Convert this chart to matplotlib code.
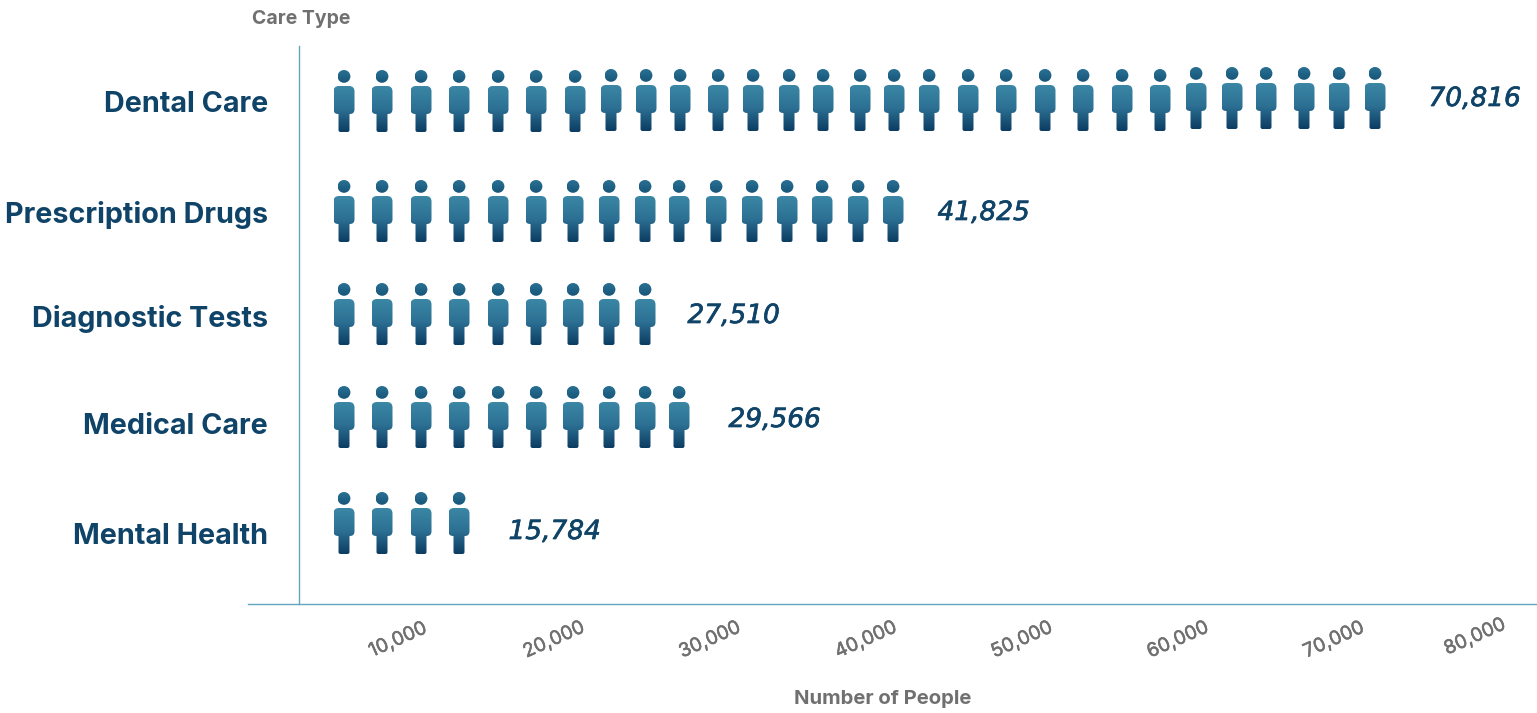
import numpy as np
import matplotlib
matplotlib.use("Agg")
import matplotlib.pyplot as plt
import matplotlib.patheffects as pe
from matplotlib.path import Path
from matplotlib.patches import PathPatch
from matplotlib.colors import LinearSegmentedColormap
from matplotlib.transforms import ScaledTranslation

# ---- data ----
categories = ["Dental Care", "Prescription Drugs", "Diagnostic Tests", "Medical Care", "Mental Health"]
values = [70816, 41825, 27510, 29566, 15784]
icon_counts = [29, 16, 9, 10, 4]
tick_values = [10000, 20000, 30000, 40000, 50000, 60000, 70000, 80000]
tick_labels = ["10,000", "20,000", "30,000", "40,000", "50,000", "60,000", "70,000", "80,000"]

# ---- layout (pixels of the 1537x713 canvas) ----
W, H, DPI = 1537, 713, 100
X_ZERO_PX = 242
row_top_px = [70, 180, 283, 386, 492]
row_label_px = [102, 212, 316, 423, 533]
value_label_px = [99, 213, 316, 420, 532]
value_gap_px = [43, 34, 32, 39, 39]
first_icon_px = 344
gaps_first_row = [38, 39, 38, 39, 38, 39, 36, 35, 34, 38, 35, 36, 34, 37, 34, 35, 39, 38, 39, 38, 39, 38, 36, 36, 34, 38, 35, 36]
gaps_other_rows = [38, 39, 38, 39, 38, 37, 36, 36, 34, 37, 36, 35, 35, 36, 35]
first_row_lift = [0] * 7 + [1] * 16 + [3] * 6

CAT_COLOR = "#0f4468"
AXIS_TEXT = "#707070"
LINE_COLOR = "#62a6bd"
LABEL_FONT = "Inter"

def px2x(px):
    return (px - X_ZERO_PX) / 156 * 10000

body_cmap = LinearSegmentedColormap.from_list("body", ["#3b87a5", "#2c7093", "#0c3d62"])
head_cmap = LinearSegmentedColormap.from_list("head", ["#2a7093", "#175679"])
grad = np.linspace(0, 1, 64).reshape(-1, 1)

def rounded_poly(pts, radii):
    n = len(pts)
    verts, codes = [], []
    for i in range(n):
        p = np.array(pts[i], float)
        a = np.array(pts[i - 1], float)
        b = np.array(pts[(i + 1) % n], float)
        r = radii[i]
        s = p + (a - p) / np.linalg.norm(a - p) * r
        e = p + (b - p) / np.linalg.norm(b - p) * r
        verts += [tuple(s), tuple(p), tuple(e)]
        codes += [Path.MOVETO if i == 0 else Path.LINETO, Path.CURVE3, Path.CURVE3]
    verts.append(verts[0])
    codes.append(Path.CLOSEPOLY)
    return np.array(verts), codes

BODY_PTS = [(-10.5, 16), (10.5, 16), (10.5, 44), (5.5, 44), (5.5, 62), (-5.5, 62), (-5.5, 44), (-10.5, 44)]
BODY_R = [5.5, 5.5, 4.7, 0.3, 2, 2, 0.3, 4.7]
body_v, body_c = rounded_poly(BODY_PTS, BODY_R)
circle = Path.circle((0, 6.4), 6.4)

fig = plt.figure(figsize=(W / DPI, H / DPI), dpi=DPI, facecolor="white")
ax = fig.add_axes([248 / W, 1 - 604 / H, (W - 248) / W, (604 - 46) / H])
ax.set_xlim(px2x(248), px2x(W))
ax.set_ylim(604, 46)

def draw_part(verts, codes, cx, top, cmap):
    xs = px2x(cx + verts[:, 0])
    ys = top + verts[:, 1]
    patch = PathPatch(Path(np.column_stack([xs, ys]), codes), transform=ax.transData,
                      facecolor="none", edgecolor="none")
    ax.add_patch(patch)
    im = ax.imshow(grad, extent=[xs.min(), xs.max(), ys.max(), ys.min()], cmap=cmap,
                   aspect="auto", origin="upper", zorder=2, interpolation="bilinear")
    im.set_clip_path(patch)

for r, cnt in enumerate(icon_counts):
    gaps = gaps_first_row if r == 0 else gaps_other_rows
    cx = first_icon_px
    for i in range(cnt):
        lift = first_row_lift[i] if r == 0 else 0
        top = row_top_px[r] - lift
        draw_part(circle.vertices, circle.codes, cx, top, head_cmap)
        draw_part(body_v, body_c, cx, top, body_cmap)
        if i < cnt - 1:
            cx += gaps[i]
    ax.annotate(f"{values[r]:,}", xy=(px2x(cx + 10.5 + value_gap_px[r]), value_label_px[r]),
                xycoords="data", ha="left", va="center", fontsize=19, style="italic",
                color=CAT_COLOR, family="DejaVu Sans",
                path_effects=[pe.withStroke(linewidth=0.5, foreground=CAT_COLOR)])

ax.set_xlim(px2x(248), px2x(W))
ax.set_ylim(604, 46)

for s in ("top", "right"):
    ax.spines[s].set_visible(False)
ax.spines["left"].set_position(("data", px2x(299)))
for s in ("left", "bottom"):
    ax.spines[s].set_color(LINE_COLOR)
    ax.spines[s].set_linewidth(1.0)

ax.set_yticks(row_label_px, categories)
ax.tick_params(axis="y", length=0, pad=31 * 72 / DPI, labelsize=20.7, labelcolor=CAT_COLOR)
for t in ax.get_yticklabels():
    t.set_family(LABEL_FONT)
    t.set_fontweight("bold")

ax.set_xticks(tick_values, tick_labels)
ax.tick_params(axis="x", length=0, pad=36 * 72 / DPI, labelsize=13.7, labelcolor=AXIS_TEXT)
for t in ax.get_xticklabels():
    t.set_family(LABEL_FONT)
    t.set_rotation(24)
    t.set_ha("center")
    t.set_va("center")
    t.set_rotation_mode("anchor")
    t.set_path_effects([pe.withStroke(linewidth=0.4, foreground=AXIS_TEXT)])
last = ax.get_xticklabels()[-1]
last.set_transform(last.get_transform() + ScaledTranslation(-15 / DPI, 3 / DPI, fig.dpi_scale_trans))

ax.set_xlabel("Number of People", family=LABEL_FONT, fontweight="bold", fontsize=14.6, color=AXIS_TEXT)
ax.xaxis.set_label_coords((883 - 248) / (W - 248), 1 - (699 - 46) / (604 - 46), transform=ax.transAxes)
ax.xaxis.label.set_va("center")
ax.set_ylabel("Care Type", family=LABEL_FONT, fontweight="bold", fontsize=14, color=AXIS_TEXT, rotation=0)
ax.yaxis.set_label_coords((301 - 248) / (W - 248), 1 + (46 - 19) / (604 - 46), transform=ax.transAxes)
ax.yaxis.label.set_va("center")
ax.yaxis.label.set_ha("center")

fig.savefig("out.png", dpi=DPI, facecolor="white")
